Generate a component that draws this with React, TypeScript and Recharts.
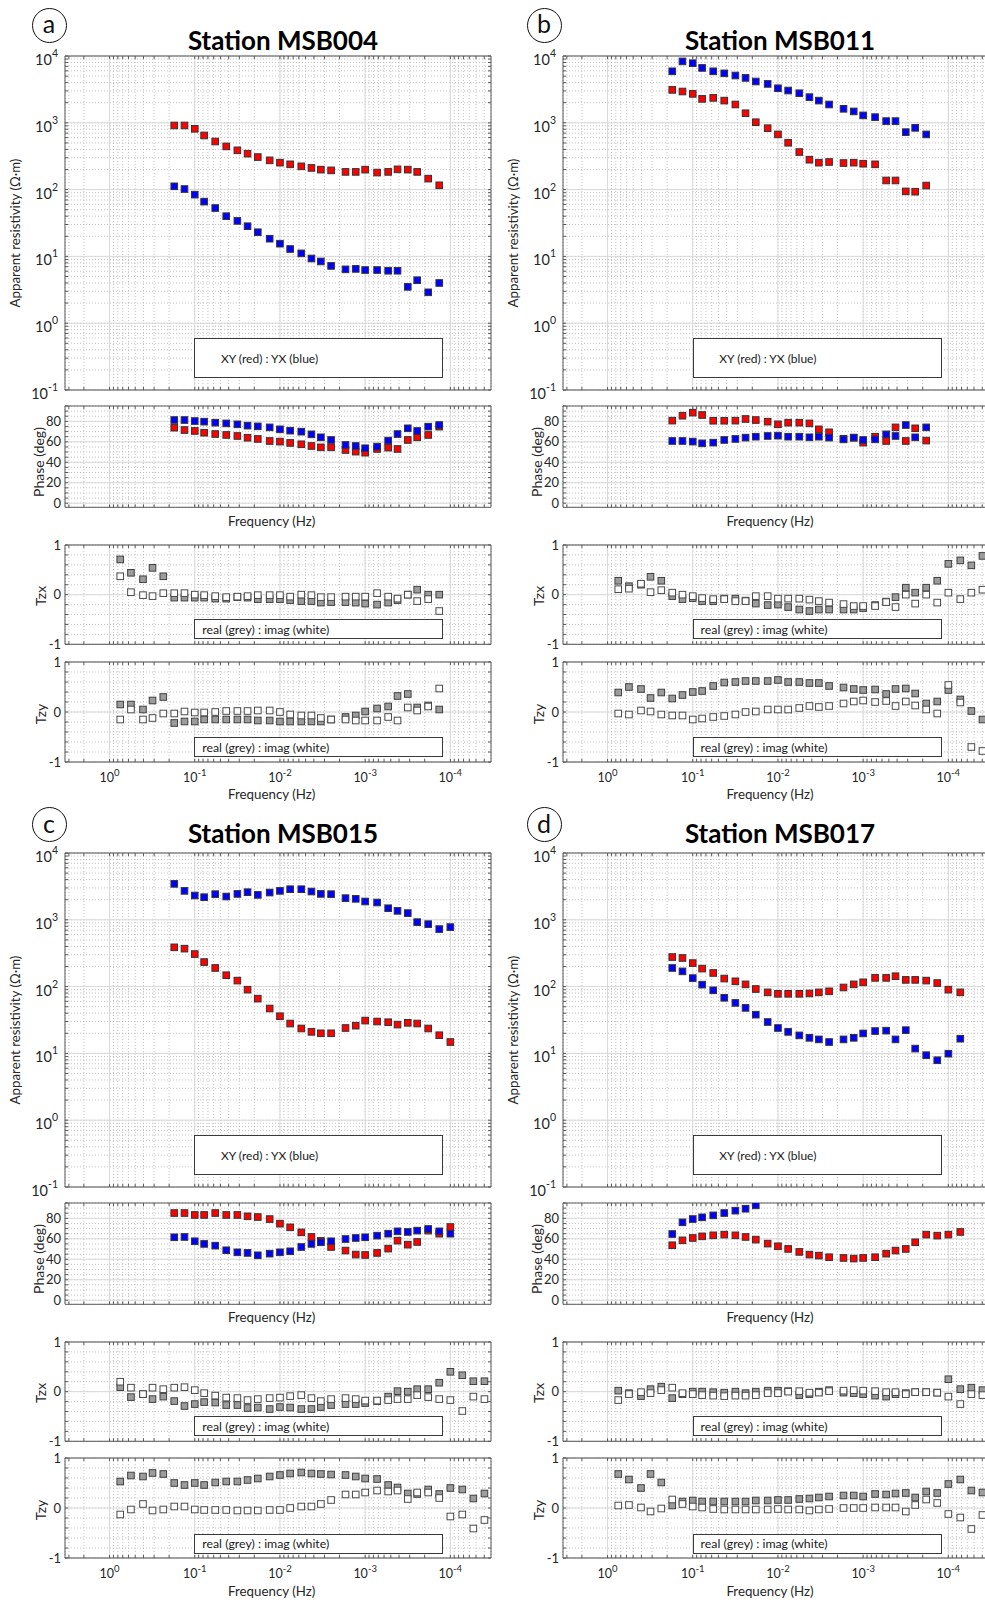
import React from "react";
import { ScatterChart, Scatter, XAxis, YAxis, CartesianGrid, ReferenceLine } from "recharts";

// frequencies (Hz) of the tipper estimates; rho / phase start at index 5
const FREQ = [
  0.749, 0.561, 0.405, 0.313, 0.234, 0.174, 0.132, 0.1, 0.0776, 0.0575, 0.0427, 0.0316,
  0.024, 0.0182, 0.0132, 0.01, 0.00759, 0.00562, 0.00427, 0.00331, 0.00251, 0.0017,
  0.00129, 0.001, 0.000724, 0.000537, 0.000417, 0.000316, 0.000245, 0.000182, 0.000135,
  0.0001, 0.0000724, 0.0000537, 0.0000398,
];
const RHO_START = 5;

// MSB004
const RHO_XY_A = [912, 912, 813, 646, 525, 443, 387, 345, 307, 274, 253, 239, 223, 211, 199, 194, 184, 184, 199, 180, 184, 201, 199, 184, 146, 116];
const RHO_YX_A = [112, 102, 84, 66, 53, 40, 34, 28.3, 23, 18.4, 15.5, 12.9, 11.1, 9.3, 8.4, 7.2, 6.4, 6.5, 6.25, 6.25, 6.1, 6.1, 3.5, 4.4, 2.9, 4.0];
const PHI_XY_A = [73.8, 71.5, 70.6, 68.9, 67.6, 66.7, 65.7, 64.0, 62.8, 60.8, 60.2, 58.9, 57.6, 55.9, 54.6, 54.6, 52.0, 50.4, 49.4, 53.0, 54.3, 53.0, 61.8, 64.4, 66.7, 74.8];
const PHI_YX_A = [81.3, 81.3, 80.3, 79.7, 78.7, 78.0, 77.1, 75.8, 75.1, 74.1, 72.2, 70.9, 69.9, 67.3, 64.4, 61.8, 56.9, 55.9, 53.7, 55.3, 61.2, 67.6, 73.2, 70.6, 74.8, 76.4];
const TZX_RE_A = [0.71, 0.44, 0.31, 0.54, 0.37, -0.06, -0.06, -0.06, -0.06, -0.08, -0.08, -0.05, -0.06, -0.09, -0.09, -0.09, -0.11, -0.13, -0.13, -0.16, -0.15, -0.15, -0.16, -0.18, -0.2, -0.16, -0.11, 0.0, 0.1, 0.0, 0.0];
const TZX_IM_A = [0.37, 0.05, -0.01, -0.03, 0.03, 0.03, 0.03, 0, -0.01, -0.03, -0.05, -0.04, -0.03, -0.01, -0.01, -0.01, -0.04, 0, -0.01, -0.05, -0.05, -0.04, -0.04, -0.04, 0.03, -0.04, -0.08, 0, -0.13, -0.09, -0.33];
const TZY_RE_A = [0.15, 0.15, 0.05, 0.23, 0.3, -0.22, -0.19, -0.19, -0.15, -0.15, -0.15, -0.15, -0.15, -0.17, -0.17, -0.19, -0.19, -0.19, -0.19, -0.19, -0.15, -0.1, -0.07, 0.01, 0.07, 0.11, 0.32, 0.36, 0.09, 0.13, 0.05];
const TZY_IM_A = [-0.15, 0.05, -0.15, -0.12, -0.03, -0.03, 0.01, -0.01, -0.01, 0, 0.02, 0.02, 0.02, 0.03, 0.03, 0, -0.05, -0.07, -0.07, -0.12, -0.15, -0.15, -0.17, -0.17, -0.17, -0.1, -0.17, 0.09, 0.03, 0.11, 0.47];

// MSB011
const RHO_XY_B = [3110, 2940, 2710, 2280, 2360, 2150, 1880, 1390, 1020, 830, 670, 503, 365, 280, 253, 259, 250, 253, 244, 239, 137, 137, 94, 93, 115];
const RHO_YX_B = [5900, 8300, 7800, 6630, 5900, 5500, 5100, 4700, 4150, 3820, 3290, 3040, 2770, 2420, 2150, 1880, 1620, 1480, 1290, 1215, 1060, 1060, 725, 840, 670];
const PHI_XY_B = [80.7, 85.5, 88.5, 86.2, 80.6, 80.6, 80.7, 82.3, 81.3, 79.7, 77.1, 78.7, 78.7, 78.0, 72.2, 69.3, 63, 64, 59.2, 65.0, 60.8, 74.1, 60.8, 73.2, 61.2];
const PHI_YX_B = [60.8, 60.8, 60.2, 58.5, 59.2, 61.8, 62.8, 64.1, 65.0, 65.7, 66.0, 65.0, 65.0, 64.4, 65.0, 64.1, 62.4, 64.1, 61.8, 62.4, 67.3, 65.7, 76.4, 64.4, 74.1];
const TZX_RE_B = [0.28, 0.17, 0.2, 0.36, 0.28, -0.03, -0.09, -0.07, -0.13, -0.13, -0.08, -0.08, -0.12, -0.18, -0.21, -0.2, -0.25, -0.3, -0.33, -0.3, -0.3, -0.3, -0.3, -0.27, -0.21, -0.14, -0.05, 0.14, 0.04, 0.14, 0.28, 0.62, 0.69, 0.59, 0.78];
const TZX_IM_B = [0.11, 0.12, 0.22, 0.05, 0.09, 0.04, 0, -0.03, -0.07, -0.09, -0.09, -0.13, -0.13, -0.03, -0.03, -0.08, -0.08, -0.08, -0.1, -0.13, -0.16, -0.19, -0.23, -0.23, -0.23, -0.15, -0.25, 0, -0.18, 0, -0.16, 0.04, -0.09, 0.04, 0.1];
const TZY_RE_B = [0.39, 0.5, 0.46, 0.28, 0.39, 0.27, 0.34, 0.4, 0.42, 0.52, 0.59, 0.6, 0.62, 0.62, 0.62, 0.64, 0.6, 0.6, 0.58, 0.58, 0.52, 0.49, 0.46, 0.44, 0.45, 0.36, 0.46, 0.47, 0.37, 0.17, 0.21, 0.44, 0.25, 0.02, -0.15];
const TZY_IM_B = [-0.03, -0.05, 0.03, 0.01, -0.05, -0.07, -0.07, -0.15, -0.13, -0.1, -0.08, -0.05, 0, 0.01, 0.05, 0.05, 0.05, 0.08, 0.12, 0.1, 0.12, 0.17, 0.21, 0.23, 0.2, 0.22, 0.12, 0.21, 0.13, 0.05, -0.03, 0.54, 0.19, -0.7, -0.78];

// MSB015
const RHO_XY_C = [387, 370, 307, 233, 190, 148, 123, 90, 66, 47, 36, 28, 23.6, 21, 20, 20, 24, 26, 31, 30, 29.3, 27, 28.7, 28, 23.6, 18.7, 14.8];
const RHO_YX_C = [3450, 2710, 2310, 2180, 2420, 2230, 2440, 2590, 2360, 2560, 2710, 2870, 2870, 2650, 2440, 2420, 2110, 2060, 1880, 1815, 1490, 1360, 1260, 923, 861, 726, 777];
const PHI_XY_C = [85.2, 85.2, 83.3, 83.3, 85.2, 83.3, 83.3, 82.0, 81.3, 79.3, 74.8, 71.2, 66.3, 61.8, 58, 52.0, 48.5, 44.6, 44.2, 46.2, 50.4, 58.2, 54.3, 56.9, 68, 65, 71.5];
const PHI_YX_C = [61.5, 61.8, 57.6, 55.0, 53.3, 48.8, 46.8, 46.2, 43.9, 45.5, 46.8, 47.8, 52.0, 55.0, 56.6, 57.6, 59.8, 60.8, 61.5, 63.1, 65.0, 67.3, 66.7, 68.0, 69.6, 67.3, 65.0];
const TZX_RE_C = [0.09, -0.11, -0.05, -0.15, -0.1, -0.19, -0.29, -0.25, -0.21, -0.22, -0.27, -0.27, -0.33, -0.32, -0.35, -0.31, -0.32, -0.35, -0.35, -0.31, -0.27, -0.25, -0.25, -0.23, -0.19, -0.1, 0.01, 0, 0.05, 0.05, 0.18, 0.4, 0.33, 0.21, 0.21];
const TZX_IM_C = [0.2, 0.08, -0.05, 0.08, 0.05, 0.08, 0.09, 0.03, -0.03, -0.08, -0.12, -0.13, -0.17, -0.15, -0.13, -0.12, -0.09, -0.07, -0.13, -0.19, -0.15, -0.13, -0.15, -0.18, -0.18, -0.17, -0.15, -0.15, -0.07, -0.11, -0.15, -0.17, -0.39, -0.1, -0.15];
const TZY_RE_C = [0.53, 0.65, 0.63, 0.7, 0.68, 0.5, 0.46, 0.5, 0.46, 0.51, 0.53, 0.53, 0.56, 0.59, 0.63, 0.66, 0.69, 0.71, 0.69, 0.68, 0.67, 0.66, 0.63, 0.59, 0.58, 0.46, 0.41, 0.29, 0.28, 0.37, 0.28, 0.4, 0.37, 0.19, 0.29];
const TZY_IM_C = [-0.13, -0.03, 0.08, -0.05, -0.03, 0.03, 0.03, -0.03, -0.04, -0.04, -0.04, -0.05, -0.05, -0.05, -0.04, -0.04, 0, 0.03, 0.03, 0.08, 0.16, 0.27, 0.27, 0.31, 0.35, 0.33, 0.35, 0.18, 0.31, 0.31, 0.2, -0.17, -0.13, -0.41, -0.24];

// MSB017
const RHO_XY_D = [277, 268, 225, 186, 160, 132, 120, 108, 92, 82, 78, 78, 78, 79, 82, 85, 97, 108, 116, 135, 135, 143, 126, 126, 123, 113, 90, 82];
const RHO_YX_D = [190, 169, 134, 107, 88, 68, 57, 48, 38, 29.5, 24, 21, 18.6, 17.1, 16.2, 14.8, 16.2, 17.1, 19.9, 21.6, 21.9, 16.2, 22.3, 11.8, 9.4, 7.9, 9.9, 16.6];
const PHI_XY_D = [53.7, 58.5, 60.8, 62.4, 63.4, 64.1, 63.4, 61.8, 59.2, 55.3, 52.7, 50.1, 47.2, 44.6, 43.6, 42.0, 41.3, 40.7, 41.3, 42.0, 45.5, 48.5, 50.1, 56.6, 64.1, 63.1, 64.1, 66.7];
const PHI_YX_D = [64.7, 76.1, 79.3, 81.0, 82.9, 85.2, 87.5, 89.4, 92.7];
const TZX_RE_D = [0.02, -0.03, -0.09, 0.05, 0.1, -0.13, -0.05, 0, 0, -0.01, -0.02, 0, -0.03, 0, 0.02, 0.02, 0.01, -0.07, -0.05, 0, 0.03, -0.02, -0.03, -0.05, -0.08, -0.1, -0.05, -0.03, -0.01, -0.01, -0.02, 0.25, 0.05, 0.08, 0.03];
const TZX_IM_D = [-0.17, -0.05, -0.01, -0.03, 0.03, 0.08, -0.03, -0.05, -0.07, -0.08, -0.09, -0.08, -0.08, -0.07, -0.03, -0.03, 0, 0.01, -0.02, -0.02, 0.01, 0.02, 0.03, 0.02, 0.01, -0.01, -0.01, -0.05, -0.01, -0.01, -0.02, -0.1, -0.25, -0.05, -0.07];
const TZY_RE_D = [0.68, 0.57, 0.4, 0.68, 0.51, 0.05, 0.13, 0.15, 0.13, 0.13, 0.13, 0.13, 0.13, 0.15, 0.15, 0.16, 0.16, 0.18, 0.19, 0.21, 0.23, 0.25, 0.25, 0.23, 0.28, 0.27, 0.29, 0.3, 0.21, 0.33, 0.3, 0.48, 0.57, 0.35, 0.31];
const TZY_IM_D = [0.05, 0.06, 0.01, -0.07, -0.01, 0.17, 0.08, 0.03, 0.01, -0.02, -0.03, -0.03, -0.03, -0.03, -0.03, -0.02, -0.03, -0.03, -0.05, -0.03, -0.02, 0, 0, 0, 0.01, 0.01, 0.01, -0.07, 0.06, 0.17, 0.1, -0.12, -0.19, -0.42, -0.14];

// axes
const X_DOMAIN: [number, number] = [1 / 30000, 1 / 0.3];
const X_MAJOR = [1, 0.1, 0.01, 0.001, 0.0001];
const RHO_DOMAIN: [number, number] = [0.1, 10000];
const RHO_MAJOR = [0.1, 1, 10, 100, 1000, 10000];
const PHASE_DOMAIN: [number, number] = [-4, 95];
const PHASE_MAJOR = [0, 20, 40, 60, 80];
const TIP_DOMAIN: [number, number] = [-1, 1];
const TIP_MAJOR = [-1, 0, 1];

function logMinor(lo: number, hi: number) {
  const out: number[] = [];
  for (let e = -6; e <= 5; e++)
    for (let m = 1; m <= 9; m++) {
      const v = m * Math.pow(10, e);
      if (v >= lo * 0.999 && v <= hi * 1.001) out.push(v);
    }
  return out;
}
function linMinor(lo: number, hi: number, step: number) {
  const out: number[] = [];
  for (let v = lo; v <= hi + 1e-9; v += step) out.push(Math.round(v * 1000) / 1000);
  return out;
}
const X_MINOR = logMinor(X_DOMAIN[0], X_DOMAIN[1]);
const RHO_MINOR = logMinor(RHO_DOMAIN[0], RHO_DOMAIN[1]);
const PHASE_MINOR = linMinor(0, 95, 5);
const TIP_MINOR = linMinor(-1, 1, 0.2);

const FONT = "Lato, 'Open Sans', sans-serif";
const INK = "#262626";
const BOX = "#595959";
const RED = "#ff0000";
const BLUE = "#0000ff";
const GREY = "#9c9c9c";
const EDGE = "#333333";

// layout (px in the page)
const COL_LEFT = [65, 563.3];
const ROW_DY = [0, 796.7];
const TITLE_X = [283, 780];
const TITLE_Y = [40.5, 834];
const TAG_X = [49, 544];
const TAG_Y = [25, 824.5];
const PLOT_W = 426;
const YW = 64;
const RM = 8;
const TM = 14;

const isMajor = (v: number, list: number[]) => list.some((m) => Math.abs(m - v) <= Math.abs(m) * 1e-6 + 1e-9);

const pts = (vals: number[], start: number) => vals.map((v, i) => ({ f: FREQ[start + i], v }));

const square = (fill: string, stroke: string) => (p: any) =>
  p.cx == null ? (
    <g />
  ) : (
    <rect x={p.cx - 3.3} y={p.cy - 3.3} width={6.6} height={6.6} fill={fill} stroke={stroke} strokeWidth={1} />
  );
const nothing = () => <g />;

const rhoTick = (p: any) => {
  const v = p.payload.value;
  if (!isMajor(v, RHO_MAJOR)) return <g />;
  const e = Math.round(Math.log10(v));
  return (
    <text x={p.x - 10} y={p.y + 9} textAnchor="end" fontSize={14.5} fill={INK}>
      <tspan>10</tspan>
      <tspan dy={-8} fontSize={10.5}>
        {e}
      </tspan>
    </text>
  );
};
const linTick = (major: number[]) => (p: any) => {
  const v = p.payload.value;
  if (!isMajor(v, major)) return <g />;
  return (
    <text x={p.x - 7} y={p.y} dy="0.36em" textAnchor="end" fontSize={13} fill={INK}>
      {v}
    </text>
  );
};
const freqTick = (show: boolean) => (p: any) => {
  const v = p.payload.value;
  if (!show || !isMajor(v, X_MAJOR)) return <g />;
  const e = Math.round(Math.log10(v));
  return (
    <text x={p.x} y={p.y + 23} textAnchor="middle" fontSize={12.5} fill={INK}>
      <tspan>10</tspan>
      <tspan dy={-6} fontSize={9.5}>
        {e}
      </tspan>
    </text>
  );
};

type Layer = { data: { f: number; v: number }[]; fill: string; stroke: string };

function Plot({ left, top, h, kind, layers, xLabels }: { left: number; top: number; h: number; kind: "rho" | "phase" | "tip"; layers: Layer[]; xLabels?: boolean }) {
  const y =
    kind === "rho"
      ? { scale: "log" as const, domain: RHO_DOMAIN, major: RHO_MAJOR, minor: RHO_MINOR, tick: rhoTick }
      : kind === "phase"
      ? { scale: "linear" as const, domain: PHASE_DOMAIN, major: PHASE_MAJOR, minor: PHASE_MINOR, tick: linTick(PHASE_MAJOR) }
      : { scale: "linear" as const, domain: TIP_DOMAIN, major: TIP_MAJOR, minor: TIP_MINOR, tick: linTick(TIP_MAJOR) };
  const XB = xLabels ? 34 : 14;
  const W = YW + PLOT_W + RM;
  const H = TM + h + XB;
  const axisStroke = { stroke: BOX, strokeWidth: 1 };
  return (
    <div style={{ position: "absolute", left: left - YW, top: top - TM }}>
      <ScatterChart width={W} height={H} margin={{ top: 0, right: 0, bottom: 0, left: 0 }}>
        <XAxis
          xAxisId="m"
          type="number"
          dataKey="f"
          scale="log"
          domain={X_DOMAIN}
          allowDataOverflow
          reversed
          ticks={X_MINOR}
          interval={0}
          height={XB}
          tickSize={-3}
          tickMargin={0}
          axisLine={axisStroke}
          tickLine={axisStroke}
          tick={freqTick(!!xLabels)}
        />
        <XAxis
          xAxisId="t"
          orientation="top"
          type="number"
          dataKey="f"
          scale="log"
          domain={X_DOMAIN}
          allowDataOverflow
          reversed
          ticks={X_MINOR}
          interval={0}
          height={TM}
          tickSize={-3}
          tickMargin={0}
          axisLine={axisStroke}
          tickLine={axisStroke}
          tick={nothing}
        />
        <YAxis
          yAxisId="m"
          type="number"
          dataKey="v"
          scale={y.scale}
          domain={y.domain}
          allowDataOverflow
          ticks={y.minor}
          interval={0}
          width={YW}
          tickSize={-3}
          tickMargin={0}
          axisLine={axisStroke}
          tickLine={axisStroke}
          tick={y.tick}
        />
        <YAxis
          yAxisId="r"
          orientation="right"
          type="number"
          dataKey="v"
          scale={y.scale}
          domain={y.domain}
          allowDataOverflow
          ticks={y.minor}
          interval={0}
          width={RM}
          tickSize={-3}
          tickMargin={0}
          axisLine={axisStroke}
          tickLine={axisStroke}
          tick={nothing}
        />
        <CartesianGrid xAxisId="m" yAxisId="m" stroke="#b4b4b4" strokeDasharray="1 2" strokeWidth={0.8} />
        {X_MAJOR.map((v) => (
          <ReferenceLine key={`x${v}`} xAxisId="m" yAxisId="m" x={v} stroke="#dadada" strokeWidth={1} />
        ))}
        {y.major.map((v) => (
          <ReferenceLine key={`y${v}`} xAxisId="m" yAxisId="m" y={v} stroke="#dadada" strokeWidth={1} />
        ))}
        <Scatter xAxisId="t" yAxisId="r" data={layers[0].data} shape={nothing} isAnimationActive={false} />
        {layers.map((l, i) => (
          <Scatter key={i} xAxisId="m" yAxisId="m" data={l.data} shape={square(l.fill, l.stroke)} isAnimationActive={false} />
        ))}
      </ScatterChart>
    </div>
  );
}

function LegendBox({ left, top, w, h, text, pad, size }: { left: number; top: number; w: number; h: number; text: string; pad: number; size: number }) {
  return (
    <div
      style={{
        position: "absolute",
        left,
        top,
        width: w,
        height: h,
        boxSizing: "border-box",
        border: "1px solid #3a3a3a",
        background: "#fff",
        display: "flex",
        alignItems: "center",
        paddingLeft: pad,
        fontSize: size,
        whiteSpace: "nowrap",
        color: "#1a1a1a",
      }}
    >
      {text}
    </div>
  );
}

function Label({ x, y, text, size, rotate, bold }: { x: number; y: number; text: string; size: number; rotate?: boolean; bold?: boolean }) {
  return (
    <div
      style={{
        position: "absolute",
        left: x,
        top: y,
        transform: `translate(-50%, -50%)${rotate ? " rotate(-90deg)" : ""}`,
        fontSize: size,
        fontWeight: bold ? 700 : 400,
        whiteSpace: "nowrap",
        lineHeight: 1.2,
        color: bold ? "#000" : INK,
      }}
    >
      {text}
    </div>
  );
}

const PANELS = [
  { tag: "a", name: "Station MSB004", col: 0, row: 0, rxy: RHO_XY_A, ryx: RHO_YX_A, pxy: PHI_XY_A, pyx: PHI_YX_A, zxr: TZX_RE_A, zxi: TZX_IM_A, zyr: TZY_RE_A, zyi: TZY_IM_A },
  { tag: "b", name: "Station MSB011", col: 1, row: 0, rxy: RHO_XY_B, ryx: RHO_YX_B, pxy: PHI_XY_B, pyx: PHI_YX_B, zxr: TZX_RE_B, zxi: TZX_IM_B, zyr: TZY_RE_B, zyi: TZY_IM_B },
  { tag: "c", name: "Station MSB015", col: 0, row: 1, rxy: RHO_XY_C, ryx: RHO_YX_C, pxy: PHI_XY_C, pyx: PHI_YX_C, zxr: TZX_RE_C, zxi: TZX_IM_C, zyr: TZY_RE_C, zyi: TZY_IM_C },
  { tag: "d", name: "Station MSB017", col: 1, row: 1, rxy: RHO_XY_D, ryx: RHO_YX_D, pxy: PHI_XY_D, pyx: PHI_YX_D, zxr: TZX_RE_D, zxi: TZX_IM_D, zyr: TZY_RE_D, zyi: TZY_IM_D },
];

function Panel({ p }: { p: (typeof PANELS)[number] }) {
  const L = COL_LEFT[p.col];
  const dy = ROW_DY[p.row];
  const rhoTop = 56 + dy;
  const phTop = 406 + dy;
  const zxTop = 545 + dy;
  const zyTop = 661.7 + dy;
  const tipLayers = (re: number[], im: number[]): Layer[] => [
    { data: pts(re, 0), fill: GREY, stroke: "#404040" },
    { data: pts(im, 0), fill: "#ffffff", stroke: "#4a4a4a" },
  ];
  return (
    <>
      <div
        style={{
          position: "absolute",
          left: TAG_X[p.col] - 17.5,
          top: TAG_Y[p.row] - 17.5,
          width: 35,
          height: 35,
          boxSizing: "border-box",
          border: "1.5px solid #111",
          borderRadius: "50%",
          display: "flex",
          alignItems: "center",
          justifyContent: "center",
          fontSize: 25,
          lineHeight: 1,
          paddingBottom: 3,
          color: "#111",
        }}
      >
        {p.tag}
      </div>
      <Label x={TITLE_X[p.col]} y={TITLE_Y[p.row]} text={p.name} size={26} bold />

      <Plot
        left={L}
        top={rhoTop}
        h={334}
        kind="rho"
        layers={[
          { data: pts(p.rxy, RHO_START), fill: RED, stroke: EDGE },
          { data: pts(p.ryx, RHO_START), fill: BLUE, stroke: EDGE },
        ]}
      />
      <Plot
        left={L}
        top={phTop}
        h={101.3}
        kind="phase"
        layers={[
          { data: pts(p.pxy, RHO_START), fill: RED, stroke: EDGE },
          { data: pts(p.pyx, RHO_START), fill: BLUE, stroke: EDGE },
        ]}
      />
      <Plot left={L} top={zxTop} h={99.3} kind="tip" layers={tipLayers(p.zxr, p.zxi)} />
      <Plot left={L} top={zyTop} h={100} kind="tip" layers={tipLayers(p.zyr, p.zyi)} xLabels />

      <LegendBox left={L + 129.3} top={rhoTop + 282.3} w={249} h={40} text="XY (red) : YX (blue)" pad={25.7} size={12} />
      <LegendBox left={L + 129.3} top={zxTop + 74.3} w={249} h={20} text="real (grey) : imag (white)" pad={7} size={12.3} />
      <LegendBox left={L + 129.3} top={zyTop + 75.6} w={249} h={19.5} text="real (grey) : imag (white)" pad={7} size={12.3} />

      <Label x={L - 49.5} y={rhoTop + 177} text="Apparent resistivity (Ω·m)" size={13.3} rotate />
      <Label x={L - 26} y={phTop + 56} text="Phase (deg)" size={14} rotate />
      <Label x={L - 24.5} y={zxTop + 51} text="Tzx" size={14} rotate />
      <Label x={L - 24.5} y={zyTop + 52} text="Tzy" size={14} rotate />
      <Label x={L + 206.7} y={phTop + 115.7} text="Frequency (Hz)" size={13.3} />
      <Label x={L + 206.7} y={zyTop + 133.3} text="Frequency (Hz)" size={13.3} />
    </>
  );
}

export default function App() {
  return (
    <div
      style={{
        position: "absolute",
        left: 0,
        top: 0,
        width: 985,
        height: 1600,
        overflow: "hidden",
        background: "#fff",
        fontFamily: FONT,
        color: INK,
      }}
    >
      {PANELS.map((p) => (
        <Panel key={p.tag} p={p} />
      ))}
    </div>
  );
}
